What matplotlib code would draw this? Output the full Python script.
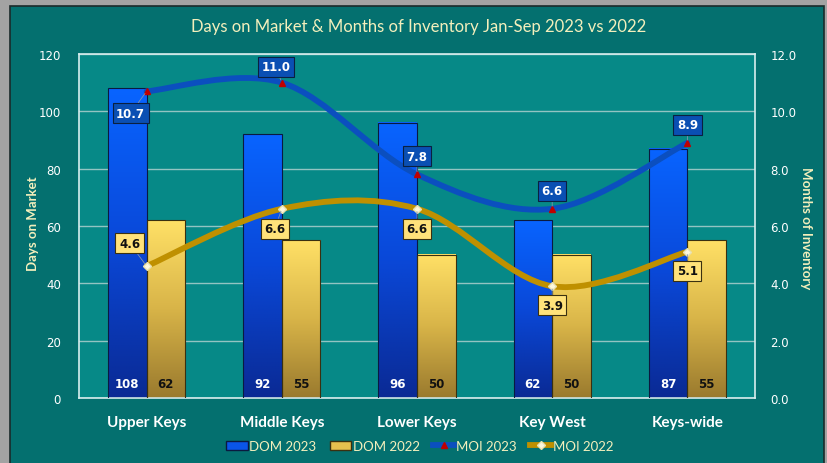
import numpy as np
import matplotlib
matplotlib.use("Agg")
import matplotlib.pyplot as plt
from matplotlib.path import Path
from matplotlib.patches import PathPatch, Rectangle, Patch
from matplotlib.lines import Line2D
from matplotlib.colors import LinearSegmentedColormap

categories = ['Upper Keys', 'Middle Keys', 'Lower Keys', 'Key West', 'Keys-wide']
dom_2023 = [108, 92, 96, 62, 87]
dom_2022 = [62, 55, 50, 50, 55]
moi_2023 = [10.7, 11.0, 7.8, 6.6, 8.9]
moi_2022 = [4.6, 6.6, 6.6, 3.9, 5.1]

# label offsets in pixels (moved labels like in the original sheet)
off_2023 = [(-16, -22), (-6, 16), (0, 18), (0, 18), (0, 18)]
off_2022 = [(-17, 23), (-7, -20), (0, -20), (0, -19), (0, -19)]

OUTER = '#04706f'
INNER = '#068987'
CREAM = '#f3efbc'
BLUE_LINE = '#0b4fbf'
GOLD_LINE = '#bf9000'
TITLE_FONT = ['Lato', 'DejaVu Sans']


def smooth_path(xs, ys):
    # excel style smoothed line: catmull-rom converted to bezier segments
    pts = np.column_stack([xs, ys]).astype(float)
    verts = [pts[0]]
    codes = [Path.MOVETO]
    n = len(pts)
    for i in range(n - 1):
        p0 = pts[max(i - 1, 0)]
        p1 = pts[i]
        p2 = pts[i + 1]
        p3 = pts[min(i + 2, n - 1)]
        c1 = p1 + (p2 - p0) / 6.0
        c2 = p2 - (p3 - p1) / 6.0
        verts += [c1, c2, p2]
        codes += [Path.CURVE4] * 3
    return Path(verts, codes)


fig = plt.figure(figsize=(8.28, 4.64), dpi=100)
fig.patch.set_facecolor('#a3a3a3')
fig.patches.append(Rectangle((10 / 828, -0.05), 814 / 828, 1 - 7 / 464 + 0.05,
                             transform=fig.transFigure, facecolor=OUTER,
                             edgecolor='#1a2a2a', lw=1.2, zorder=-10))

ax = fig.add_axes([79 / 828, 1 - 399 / 464, 676 / 828, 344 / 464])
ax.set_facecolor(INNER)
ax2 = ax.twinx()

x = np.arange(len(categories))
w = 0.285
bars23 = ax.bar(x - w / 2, dom_2023, w, facecolor='none', edgecolor='#0a1a40', lw=0.8, zorder=3)
bars22 = ax.bar(x + w / 2, dom_2022, w, facecolor='none', edgecolor='#3a3010', lw=0.8, zorder=3)

cm_blue = LinearSegmentedColormap.from_list('b', ['#0a2a94', '#0a48d8', '#0864ff'])
cm_gold = LinearSegmentedColormap.from_list('g', ['#9a7a2e', '#d8b448', '#ffe066'])
grad = np.linspace(0, 1, 128).reshape(-1, 1)
for bars, cm in [(bars23, cm_blue), (bars22, cm_gold)]:
    for b in bars:
        x0, bw, h = b.get_x(), b.get_width(), b.get_height()
        ax.imshow(grad, extent=[x0, x0 + bw, 0, h], origin='lower', aspect='auto',
                  cmap=cm, zorder=2, interpolation='bilinear')

for b, v in zip(bars23, dom_2023):
    ax.annotate(str(v), (b.get_x() + b.get_width() / 2, 0), xytext=(0, 14),
                textcoords='offset pixels', ha='center', va='center',
                color='white', fontsize=8.5, fontweight='bold', zorder=5)
for b, v in zip(bars22, dom_2022):
    ax.annotate(str(v), (b.get_x() + b.get_width() / 2, 0), xytext=(0, 14),
                textcoords='offset pixels', ha='center', va='center',
                color='#111111', fontsize=8.5, fontweight='bold', zorder=5)

ax.set_xlim(-0.5, len(categories) - 0.5)
ax.set_ylim(0, 120)
ax.set_yticks(np.arange(0, 121, 20))
ax.yaxis.grid(True, color='#92c4c2', lw=1.0)
ax.set_axisbelow(True)
ax.set_xticks(x)
ax.set_xticklabels(categories, fontsize=11, fontweight='bold', color='white',
                   family=TITLE_FONT)
ax.tick_params(axis='x', length=0, pad=12)
ax.tick_params(axis='y', length=0, pad=13, labelsize=8.5, labelcolor='white')
for s in ax.spines.values():
    s.set_color('#d8eeee')
    s.set_linewidth(1.2)

ax2.set_ylim(0, 12)
ax2.set_yticks(np.arange(0, 12.1, 2))
ax2.set_yticklabels([f'{t:.1f}' for t in np.arange(0, 12.1, 2)])
ax2.tick_params(axis='y', length=0, pad=11, labelsize=8.5, labelcolor='white')
for s in ax2.spines.values():
    s.set_visible(False)

ax2.add_patch(PathPatch(smooth_path(x, moi_2023), facecolor='none', edgecolor=BLUE_LINE,
                        lw=4.2, capstyle='round', zorder=4))
ax2.add_patch(PathPatch(smooth_path(x, moi_2022), facecolor='none', edgecolor=GOLD_LINE,
                        lw=4.2, capstyle='round', zorder=4))
ax2.plot(x, moi_2023, ls='none', marker='^', ms=5, color='#c00000', zorder=6)
ax2.plot(x, moi_2022, ls='none', marker='D', ms=4.5, color='#fdf8dc', mec='#e8e0b0', zorder=6)

for xi, v, off in zip(x, moi_2023, off_2023):
    ax2.annotate(f'{v:.1f}', (xi, v), xytext=off, textcoords='offset pixels',
                 ha='center', va='center', color='white', fontsize=8.5, fontweight='bold',
                 bbox=dict(boxstyle='square,pad=0.3', fc='#0a4fb3', ec='#0a2040', lw=0.8),
                 arrowprops=dict(arrowstyle='-', color='#7f93b0', lw=0.6, shrinkA=0, shrinkB=2),
                 zorder=7)
for xi, v, off in zip(x, moi_2022, off_2022):
    ax2.annotate(f'{v:.1f}', (xi, v), xytext=off, textcoords='offset pixels',
                 ha='center', va='center', color='#111111', fontsize=8.5, fontweight='bold',
                 bbox=dict(boxstyle='square,pad=0.3', fc='#ffe27a', ec='#3a3010', lw=0.8),
                 arrowprops=dict(arrowstyle='-', color='#7f93b0', lw=0.6, shrinkA=0, shrinkB=2),
                 zorder=7)

fig.text(419 / 828, 1 - 27 / 464, 'Days on Market & Months of Inventory Jan-Sep 2023 vs 2022',
         ha='center', va='center', color=CREAM, fontsize=12, family=TITLE_FONT)
fig.text(33 / 828, 1 - 224 / 464, 'Days on Market', rotation=90, ha='center', va='center',
         color=CREAM, fontsize=9.5, fontweight='bold', family=TITLE_FONT)
fig.text(806 / 828, 1 - 228 / 464, 'Months of Inventory', rotation=-90, ha='center', va='center',
         color=CREAM, fontsize=9.5, fontweight='bold', family=TITLE_FONT)

handles = [
    Patch(facecolor='#0a55e8', edgecolor='#0a1a40', label='DOM 2023'),
    Patch(facecolor='#e6c04e', edgecolor='#3a3010', label='DOM 2022'),
    Line2D([], [], color=BLUE_LINE, lw=4.2, marker='^', ms=5, mfc='#c00000', mec='#c00000',
           label='MOI 2023'),
    Line2D([], [], color=GOLD_LINE, lw=4.2, marker='D', ms=4, mfc='#fdf8dc', mec='#e8e0b0',
           label='MOI 2022'),
]
leg = fig.legend(handles=handles, loc='center', bbox_to_anchor=(420 / 828, 1 - 447 / 464),
                 ncol=4, frameon=False, handlelength=1.6, handletextpad=0.15, columnspacing=1.0,
                 prop={'family': TITLE_FONT, 'size': 9.5})
for t in leg.get_texts():
    t.set_color(CREAM)

fig.savefig('out.png', dpi=100, facecolor=fig.get_facecolor())
